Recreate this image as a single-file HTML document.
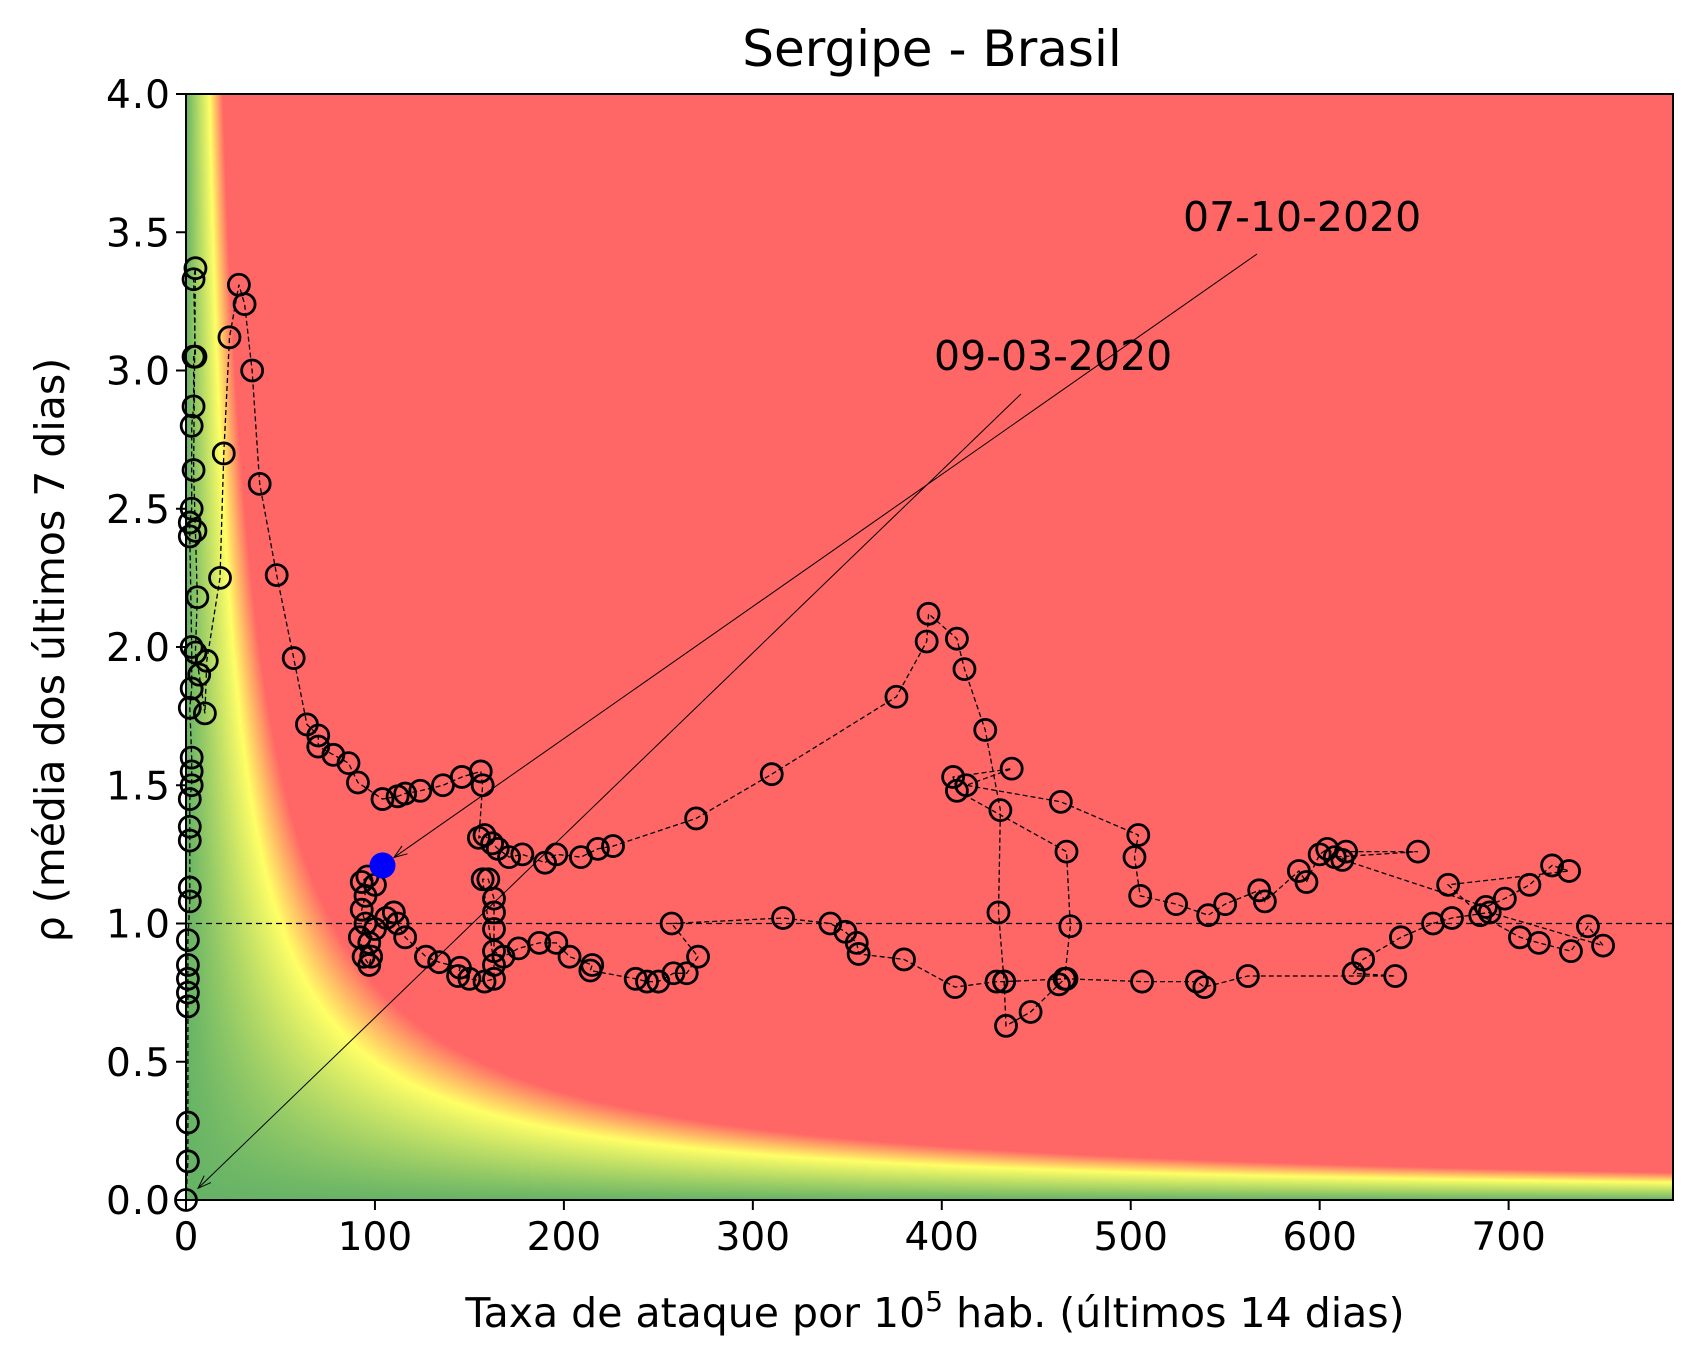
<!DOCTYPE html>
<html><head><meta charset="utf-8"><style>
body{margin:0;background:#fff;}
#wrap{position:relative;width:1703px;height:1370px;font-family:"DejaVu Sans","Liberation Sans",sans-serif;}
canvas,svg{position:absolute;left:0;top:0;}
</style></head><body>
<div id="wrap">
<canvas id="bg" width="1703" height="1370"></canvas>
<svg id="svg" width="1703" height="1370" font-family="DejaVu Sans, sans-serif"></svg>
</div>
<script>
const xs=[0,1,1,1,1,1,1,1,2,2,2,2,2,3,3,3,2,3,3,2,2,3,3,4,4,5,4,5,4,5,6,5,7,10,11,18,20,23,28,31,35,39,48,57,64,70,70,78,86,91,104,112,116,124,136,146,156,157,155,158,162,165,171,178,190,196,209,218,226,270,310,376,392,393,408,412,423,431,430,433,434,447,462,465,468,466,408,406,437,413,463,504,502,505,524,541,550,568,571,589,593,600,604,612,614,652,608,688,698,711,723,732,668,685,706,716,733,742,750,690,670,660,643,623,618,640,562,539,535,506,466,433,429,407,380,356,355,349,341,316,257,271,265,258,250,244,238,214,215,203,196,187,176,168,163,163,163,163,160,157,163,163,158,150,144,145,134,127,116,112,110,106,100,97,98,97,94,92,95,93,95,93,96,100,104];
const rhos=[0,0.14,0.28,0.7,0.75,0.8,0.85,0.94,1.08,1.13,1.3,1.35,1.45,1.5,1.55,1.6,1.78,1.85,2.0,2.4,2.45,2.5,2.8,2.87,3.05,3.05,3.33,3.37,2.64,2.42,2.18,1.98,1.9,1.76,1.95,2.25,2.7,3.12,3.31,3.24,3.0,2.59,2.26,1.96,1.72,1.68,1.64,1.61,1.58,1.51,1.45,1.46,1.47,1.48,1.5,1.53,1.55,1.5,1.31,1.32,1.29,1.27,1.24,1.25,1.22,1.25,1.24,1.27,1.28,1.38,1.54,1.82,2.02,2.12,2.03,1.92,1.7,1.41,1.04,0.79,0.63,0.68,0.78,0.8,0.99,1.26,1.48,1.53,1.56,1.5,1.44,1.32,1.24,1.1,1.07,1.03,1.07,1.12,1.08,1.19,1.15,1.25,1.27,1.23,1.26,1.26,1.24,1.06,1.09,1.14,1.21,1.19,1.14,1.03,0.95,0.93,0.9,0.99,0.92,1.04,1.02,1.0,0.95,0.87,0.82,0.81,0.81,0.77,0.79,0.79,0.8,0.79,0.79,0.77,0.87,0.89,0.93,0.97,1.0,1.02,1.0,0.88,0.82,0.82,0.79,0.79,0.8,0.83,0.85,0.88,0.93,0.93,0.91,0.88,0.9,0.98,1.04,1.09,1.16,1.16,0.85,0.8,0.79,0.8,0.81,0.84,0.86,0.88,0.95,1.0,1.04,1.02,0.98,0.93,0.88,0.85,0.88,0.95,1.0,1.05,1.1,1.15,1.17,1.14,1.21];
const xTicks=[0,100,200,300,400,500,600,700];
const yTicks=[0,0.5,1.0,1.5,2.0,2.5,3.0,3.5,4.0];
const yTickLabels=["0.0","0.5","1.0","1.5","2.0","2.5","3.0","3.5","4.0"];

const L=186,R=1673,T=94,B=1200,XMAX=787,YMAX=4;
const sx=v=>L+v*(R-L)/XMAX, sy=v=>B-v*(B-T)/YMAX;

(function(){
 const c=document.getElementById('bg').getContext('2d');
 const w=R-L,h=B-T,img=c.createImageData(w,h);
 const G=[102,179,102],Y=[255,255,102],Rd=[255,102,102];
 for(let j=0;j<h;j++){const rho=(B-(T+j+0.5))*YMAX/(B-T);
  for(let i=0;i<w;i++){const x=(i+0.5)*XMAX/(R-L);const v=x*rho;let col;
   if(v<50){const t=v/50;col=[G[0]+(Y[0]-G[0])*t,G[1]+(Y[1]-G[1])*t,G[2]+(Y[2]-G[2])*t];}
   else if(v<78){const t=(v-50)/28;col=[255,Y[1]+(Rd[1]-Y[1])*t,102];}
   else col=Rd;
   const k=(j*w+i)*4;img.data[k]=col[0];img.data[k+1]=col[1];img.data[k+2]=col[2];img.data[k+3]=255;}}
 c.putImageData(img,L,T);
})();

const svg=document.getElementById('svg');const NS='http://www.w3.org/2000/svg';
function mk(t,a,p){const e=document.createElementNS(NS,t);for(const k in a)e.setAttribute(k,a[k]);(p||svg).appendChild(e);return e;}

let e=mk('line',{x1:L,x2:R,y1:sy(1),y2:sy(1),stroke:'#000','stroke-width':1.3,'stroke-dasharray':'6,4'});



let d='';xs.forEach((x,i)=>{d+=(i?'L':'M')+sx(x).toFixed(1)+','+sy(rhos[i]).toFixed(1);});
e=mk('path',{d:d,fill:'none',stroke:'#000','stroke-width':1.3,'stroke-dasharray':'5,3'});


const g=mk('g',{});


xs.forEach((x,i)=>{const c=mk('circle',{cx:sx(x),cy:sy(rhos[i]),r:10.5,fill:'none',stroke:'#000','stroke-width':2.8},g);
 
 });
const li=xs.length-1;
e=mk('circle',{cx:sx(xs[li]),cy:sy(rhos[li]),r:13,fill:'#0000ff'});



function ann(txt,tx,ty,lx,ly,px,py,nm){
 const ang=Math.atan2(py-ly,px-lx);const ex=px-14*Math.cos(ang),ey=py-14*Math.sin(ang);
 let a=mk('line',{x1:lx,y1:ly,x2:ex,y2:ey,stroke:'#000','stroke-width':1});
 
 
 const h=14,s=0.35;
 mk('path',{d:`M${ex-h*Math.cos(ang-s)},${ey-h*Math.sin(ang-s)}L${ex},${ey}L${ex-h*Math.cos(ang+s)},${ey-h*Math.sin(ang+s)}`,fill:'none',stroke:'#000','stroke-width':1});
 let t=mk('text',{x:tx,y:ty,'font-size':41});t.textContent=txt;
 
 
}
ann('09-03-2020',934,370,1021,394,sx(xs[0])+2,sy(rhos[0])-2,'start-date');
ann('07-10-2020',1183,231,1257,254,sx(xs[li]),sy(rhos[li]),'end-date');

e=mk('rect',{x:L,y:T,width:R-L,height:B-T,fill:'none',stroke:'#000','stroke-width':2});


xTicks.forEach(v=>{mk('line',{x1:sx(v),x2:sx(v),y1:B,y2:B+10,stroke:'#000','stroke-width':2});
 const t=mk('text',{x:sx(v),y:B+50,'text-anchor':'middle','font-size':39});t.textContent=v;
 
 });
yTicks.forEach((v,i)=>{mk('line',{x1:L-10,x2:L,y1:sy(v),y2:sy(v),stroke:'#000','stroke-width':2});
 const t=mk('text',{x:L-16,y:sy(v)+14,'text-anchor':'end','font-size':39,'textLength':64,'lengthAdjust':'spacing'});t.textContent=yTickLabels[i];
 
 });
</script>
<svg width="1703" height="1370" style="position:absolute;left:0;top:0" font-family="DejaVu Sans, sans-serif">
<text x="932" y="66" text-anchor="middle" font-size="50">Sergipe - Brasil</text>
<text x="935" y="1327" text-anchor="middle" font-size="41">Taxa de ataque por 10<tspan dy="-16" font-size="28">5</tspan><tspan dy="16"> hab. (últimos 14 dias)</tspan></text>
<text transform="translate(64,650) rotate(-90)" text-anchor="middle" font-size="41">ρ (média dos últimos 7 dias)</text>
</svg>
</body></html>
